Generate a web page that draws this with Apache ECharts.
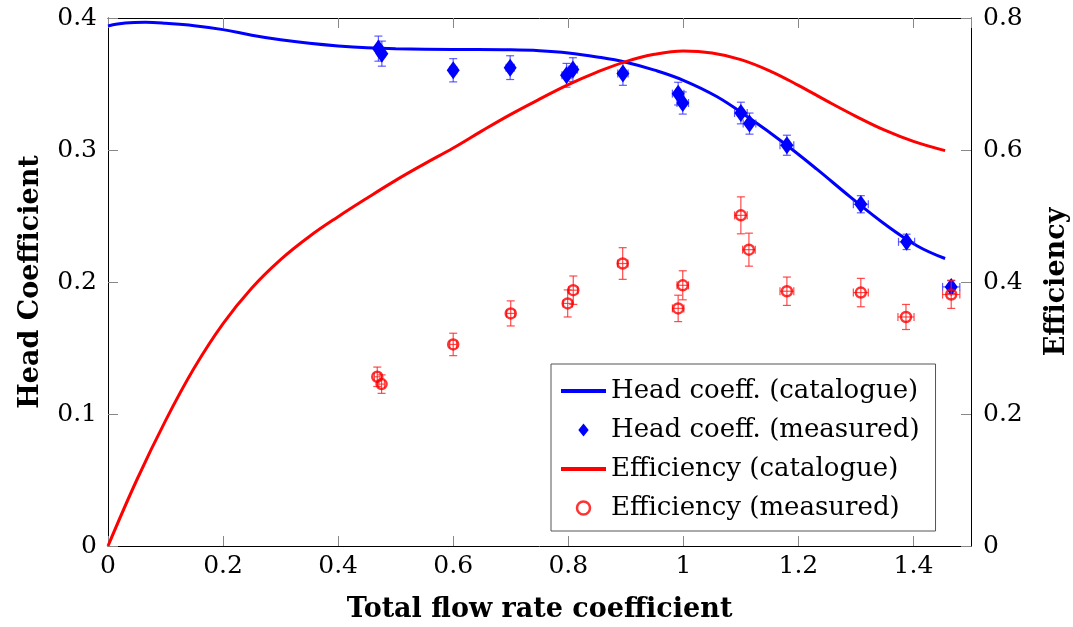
<!DOCTYPE html>
<html><head><meta charset="utf-8">
<script src="https://cdn.jsdelivr.net/npm/echarts@6/dist/echarts.min.js"></script>
<style>html,body{margin:0;padding:0;background:#fff}#c{width:1073px;height:627px}</style>
</head><body><div id="c"></div>
<script>
// Catalogue curves
const headCatX = [0, 0.03, 0.065, 0.1, 0.15, 0.2, 0.25, 0.3, 0.35, 0.4, 0.45, 0.5, 0.6, 0.7, 0.75, 0.8, 0.85, 0.9, 0.95, 1.0, 1.058, 1.116, 1.174, 1.232, 1.29, 1.348, 1.406, 1.455];
const headCatY = [0.394, 0.3962, 0.3967, 0.396, 0.3942, 0.3912, 0.387, 0.3835, 0.3808, 0.3788, 0.3774, 0.3767, 0.3762, 0.3759, 0.3752, 0.3735, 0.3705, 0.3665, 0.3605, 0.3528, 0.3405, 0.3238, 0.3055, 0.2855, 0.2645, 0.2445, 0.2275, 0.2178];
const effCatX = [0, 0.05, 0.1, 0.15, 0.2, 0.25, 0.3, 0.35, 0.4, 0.45, 0.5, 0.55, 0.6, 0.65, 0.7, 0.75, 0.8, 0.85, 0.9, 0.95, 1.0, 1.05, 1.1, 1.15, 1.2, 1.25, 1.3, 1.35, 1.4, 1.455];
const effCatY = [0, 0.1, 0.19, 0.27, 0.337, 0.391, 0.434, 0.469, 0.499, 0.527, 0.554, 0.579, 0.603, 0.629, 0.654, 0.677, 0.699, 0.718, 0.734, 0.745, 0.750, 0.747, 0.737, 0.72, 0.698, 0.674, 0.651, 0.63, 0.613, 0.599];
// Measured head coefficient
const headMeasX = [0.470, 0.476, 0.600, 0.699, 0.797, 0.808, 0.895, 0.991, 0.999, 1.100, 1.115, 1.180, 1.3085, 1.388, 1.4656];
const headMeasY = [0.3768, 0.373, 0.3604, 0.3624, 0.3566, 0.3609, 0.358, 0.3427, 0.3356, 0.328, 0.320, 0.3036, 0.2589, 0.2304, 0.1963];
const headMeasYErr = [0.0095, 0.0095, 0.0088, 0.009, 0.009, 0.009, 0.009, 0.0086, 0.0084, 0.0082, 0.008, 0.0076, 0.0065, 0.0058, 0.005];
const headMeasXErr = [0.005, 0.005, 0.006, 0.007, 0.008, 0.008, 0.009, 0.010, 0.010, 0.011, 0.011, 0.012, 0.013, 0.014, 0.015];
// Measured efficiency
const effMeasX = [0.468, 0.4755, 0.600, 0.700, 0.799, 0.8087, 0.8946, 0.991, 0.999, 1.100, 1.114, 1.180, 1.3085, 1.387, 1.4656];
const effMeasY = [0.2564, 0.2453, 0.3054, 0.3524, 0.3675, 0.3876, 0.428, 0.360, 0.395, 0.501, 0.449, 0.386, 0.384, 0.347, 0.381];
const effMeasYErr = [0.0147, 0.014, 0.017, 0.019, 0.0205, 0.0215, 0.024, 0.020, 0.022, 0.028, 0.025, 0.0215, 0.0215, 0.019, 0.021];
const effMeasXErr = [0.005, 0.005, 0.006, 0.007, 0.008, 0.008, 0.009, 0.010, 0.010, 0.011, 0.011, 0.012, 0.013, 0.014, 0.015];

const seriesNames = ['Head coeff. (catalogue)', 'Head coeff. (measured)', 'Efficiency (catalogue)', 'Efficiency (measured)'];
const axisTitles = {x: 'Total flow rate coefficient', yLeft: 'Head Coefficient', yRight: 'Efficiency'};

const FONT = 'DejaVu Serif';
const BLUE = '#0000ff', RED = '#ff0000';

function zip(a, b) { return a.map((v, i) => [v, b[i]]); }
function errData(x, y, ey, ex) { return x.map((v, i) => [v, y[i], ey[i], ex[i]]); }

function errRender(color) {
  return function (params, api) {
    const x = api.value(0), y = api.value(1), ey = api.value(2), ex = api.value(3);
    const c = api.coord([x, y]);
    const t = api.coord([x, y + ey]);
    const b = api.coord([x, y - ey]);
    const l = api.coord([x - ex, y]);
    const r = api.coord([x + ex, y]);
    const cap = 4;
    const style = {stroke: color, lineWidth: 1.2, fill: null};
    const mk = (x1, y1, x2, y2) => ({type: 'line', shape: {x1, y1, x2, y2}, style});
    return {type: 'group', children: [
      mk(c[0], t[1], c[0], b[1]),
      mk(c[0] - cap, t[1], c[0] + cap, t[1]),
      mk(c[0] - cap, b[1], c[0] + cap, b[1]),
      mk(l[0], c[1], r[0], c[1]),
      mk(l[0], c[1] - cap, l[0], c[1] + cap),
      mk(r[0], c[1] - cap, r[0], c[1] + cap)
    ]};
  };
}

const tickStyle = {show: true, inside: true, length: 10, lineStyle: {color: '#888', width: 1}};
const lineStyleAxis = {show: true, onZero: false, lineStyle: {color: '#000', width: 1}};
const labelStyle = {fontFamily: FONT, fontSize: 25, color: '#000'};
const nameStyle = {fontFamily: FONT, fontSize: 27, fontWeight: 'bold', color: '#000'};

const LINE_ICON = 'path://M0,0H44V4H0Z';
const DIAMOND_ICON = 'path://M6,0L12,7.5L6,15L0,7.5Z';

const chart = echarts.init(document.getElementById('c'), null, {renderer: 'canvas'});
chart.setOption({
  animation: false,
  backgroundColor: '#fff',
  grid: {left: 108, top: 18, right: 102, bottom: 81, containLabel: false, outerBoundsMode: 'none'},
  xAxis: [
    {type: 'value', min: 0, max: 1.5, interval: 0.2, position: 'bottom',
     axisLine: lineStyleAxis, axisTick: tickStyle, splitLine: {show: false},
     axisLabel: Object.assign({margin: 8, showMaxLabel: false,
       formatter: v => (Math.abs(v - 1.5) < 1e-9 ? '' : String(+v.toFixed(1)))}, labelStyle),
     name: axisTitles.x, nameLocation: 'middle', nameGap: 50, nameTextStyle: nameStyle},
    {type: 'value', min: 0, max: 1.5, interval: 0.2, position: 'top',
     axisLine: lineStyleAxis, axisTick: tickStyle, splitLine: {show: false}, axisLabel: {show: false}}
  ],
  yAxis: [
    {type: 'value', min: 0, max: 0.4, interval: 0.1, position: 'left',
     axisLine: lineStyleAxis, axisTick: tickStyle, splitLine: {show: false},
     axisLabel: Object.assign({margin: 11}, labelStyle),
     name: axisTitles.yLeft, nameLocation: 'middle', nameGap: 64, nameRotate: 90, nameTextStyle: nameStyle},
    {type: 'value', min: 0, max: 0.8, interval: 0.2, position: 'right',
     axisLine: lineStyleAxis, axisTick: tickStyle, splitLine: {show: false},
     axisLabel: Object.assign({margin: 12}, labelStyle),
     name: axisTitles.yRight, nameLocation: 'middle', nameGap: 72, nameRotate: 90, nameTextStyle: nameStyle}
  ],
  legend: {
    orient: 'vertical', left: 551, top: 364,
    backgroundColor: '#fff', borderColor: '#555', borderWidth: 1, borderRadius: 0,
    padding: [14, 16, 10, 10], itemGap: 13, itemWidth: 45, itemHeight: 13,
    symbolKeepAspect: true,
    textStyle: {fontFamily: FONT, fontSize: 26, color: '#000'},
    data: [
      {name: seriesNames[0], icon: LINE_ICON, itemStyle: {color: BLUE}},
      {name: seriesNames[1], icon: DIAMOND_ICON, itemStyle: {color: BLUE}},
      {name: seriesNames[2], icon: LINE_ICON, itemStyle: {color: RED}},
      {name: seriesNames[3], icon: 'circle', itemStyle: {color: 'rgba(0,0,0,0)', borderColor: RED, borderWidth: 2.5}}
    ]
  },
  series: [
    {name: seriesNames[0], type: 'line', xAxisIndex: 0, yAxisIndex: 0, data: zip(headCatX, headCatY),
     smooth: 0.4, symbol: 'none', lineStyle: {color: BLUE, width: 3}, itemStyle: {color: BLUE}, z: 2},
    {type: 'custom', xAxisIndex: 0, yAxisIndex: 0, renderItem: errRender('rgba(40,40,255,0.75)'),
     data: errData(headMeasX, headMeasY, headMeasYErr, headMeasXErr), z: 3, silent: true},
    {name: seriesNames[1], type: 'scatter', xAxisIndex: 0, yAxisIndex: 0, data: zip(headMeasX, headMeasY),
     symbol: 'diamond', symbolSize: [13, 18], itemStyle: {color: BLUE, opacity: 1}, z: 4},
    {name: seriesNames[2], type: 'line', xAxisIndex: 0, yAxisIndex: 1, data: zip(effCatX, effCatY),
     smooth: 0.4, symbol: 'none', lineStyle: {color: RED, width: 3}, itemStyle: {color: RED}, z: 5},
    {type: 'custom', xAxisIndex: 0, yAxisIndex: 1, renderItem: errRender('rgba(255,30,30,0.8)'),
     data: errData(effMeasX, effMeasY, effMeasYErr, effMeasXErr), z: 6, silent: true},
    {name: seriesNames[3], type: 'scatter', xAxisIndex: 0, yAxisIndex: 1, data: zip(effMeasX, effMeasY),
     symbol: 'circle', symbolSize: 10, itemStyle: {color: 'rgba(0,0,0,0)', borderColor: RED, borderWidth: 2.5}, z: 7}
  ]
});
</script></body></html>
